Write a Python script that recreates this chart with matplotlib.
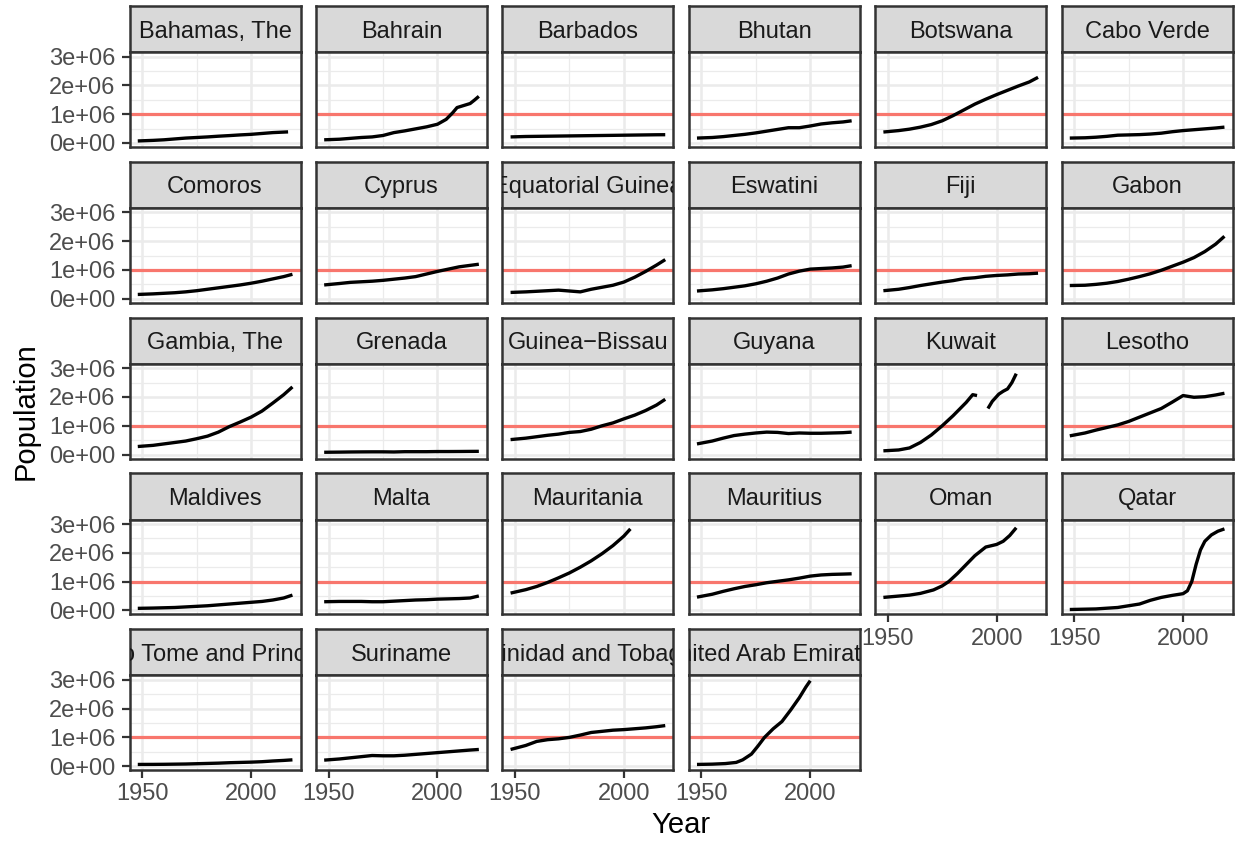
import numpy as np
import matplotlib
matplotlib.use("Agg")
import matplotlib.pyplot as plt

plt.rcParams['font.family'] = ['Liberation Sans', 'DejaVu Sans']

# common year grid, populations in millions
years = [1948, 1955, 1960, 1965, 1970, 1975, 1980, 1985, 1990, 1995, 2000, 2005, 2010, 2015, 2019]

barbados = [0.21, 0.225, 0.23, 0.235, 0.24, 0.245, 0.25, 0.255, 0.26, 0.265, 0.27, 0.275, 0.28, 0.285, 0.287]
bhutan = [0.17, 0.19, 0.22, 0.26, 0.30, 0.35, 0.41, 0.47, 0.53, 0.53, 0.59, 0.66, 0.70, 0.73, 0.77]
botswana = [0.38, 0.43, 0.48, 0.55, 0.64, 0.77, 0.95, 1.15, 1.35, 1.52, 1.68, 1.83, 1.98, 2.12, 2.28]
cabo_verde = [0.17, 0.18, 0.20, 0.23, 0.27, 0.28, 0.29, 0.31, 0.34, 0.39, 0.43, 0.46, 0.49, 0.52, 0.55]
comoros = [0.15, 0.17, 0.19, 0.21, 0.24, 0.28, 0.33, 0.38, 0.43, 0.48, 0.54, 0.61, 0.69, 0.77, 0.85]
cyprus = [0.48, 0.53, 0.57, 0.59, 0.61, 0.64, 0.68, 0.72, 0.77, 0.86, 0.95, 1.03, 1.11, 1.16, 1.20]
eq_guinea = [0.22, 0.24, 0.26, 0.28, 0.30, 0.27, 0.24, 0.33, 0.40, 0.47, 0.58, 0.75, 0.95, 1.17, 1.36]
eswatini = [0.27, 0.31, 0.35, 0.40, 0.45, 0.52, 0.61, 0.72, 0.86, 0.96, 1.03, 1.05, 1.07, 1.10, 1.15]
fiji = [0.28, 0.33, 0.39, 0.46, 0.52, 0.58, 0.63, 0.70, 0.73, 0.78, 0.81, 0.83, 0.86, 0.87, 0.89]
gabon = [0.46, 0.47, 0.50, 0.54, 0.60, 0.68, 0.77, 0.87, 0.99, 1.13, 1.27, 1.43, 1.64, 1.90, 2.17]
gambia = [0.28, 0.32, 0.37, 0.42, 0.47, 0.55, 0.64, 0.78, 0.97, 1.13, 1.30, 1.51, 1.79, 2.08, 2.35]
grenada = [0.08, 0.085, 0.09, 0.093, 0.095, 0.095, 0.09, 0.10, 0.10, 0.10, 0.105, 0.105, 0.107, 0.11, 0.112]
guinea_bissau = [0.52, 0.57, 0.62, 0.67, 0.71, 0.77, 0.80, 0.88, 1.00, 1.10, 1.24, 1.37, 1.53, 1.72, 1.92]
guyana = [0.37, 0.47, 0.57, 0.66, 0.71, 0.75, 0.78, 0.77, 0.73, 0.75, 0.74, 0.74, 0.75, 0.76, 0.78]
lesotho = [0.65, 0.75, 0.85, 0.94, 1.03, 1.15, 1.30, 1.45, 1.60, 1.82, 2.05, 1.99, 2.01, 2.07, 2.13]
maldives = [0.07, 0.08, 0.09, 0.10, 0.12, 0.14, 0.16, 0.19, 0.22, 0.25, 0.28, 0.31, 0.36, 0.43, 0.53]
malta = [0.30, 0.31, 0.31, 0.31, 0.30, 0.30, 0.32, 0.34, 0.36, 0.37, 0.39, 0.40, 0.41, 0.43, 0.50]
mauritius = [0.46, 0.56, 0.66, 0.75, 0.83, 0.89, 0.96, 1.01, 1.06, 1.12, 1.19, 1.23, 1.25, 1.26, 1.27]
sao_tome = [0.06, 0.062, 0.065, 0.07, 0.075, 0.085, 0.095, 0.105, 0.12, 0.13, 0.14, 0.155, 0.18, 0.20, 0.22]
suriname = [0.21, 0.25, 0.29, 0.33, 0.37, 0.36, 0.36, 0.38, 0.41, 0.44, 0.47, 0.50, 0.53, 0.56, 0.58]
trinidad = [0.58, 0.72, 0.86, 0.92, 0.95, 1.00, 1.08, 1.17, 1.21, 1.25, 1.27, 1.30, 1.33, 1.37, 1.41]

# series with their own years
bahamas_years = [1948, 1955, 1960, 1965, 1970, 1975, 1980, 1985, 1990, 1995, 2000, 2005, 2010, 2017]
bahamas = [0.07, 0.09, 0.11, 0.14, 0.17, 0.19, 0.21, 0.235, 0.256, 0.28, 0.30, 0.33, 0.36, 0.385]
bahrain_years = [1948, 1955, 1960, 1965, 1970, 1975, 1980, 1985, 1990, 1995, 2000, 2004, 2007, 2009, 2012, 2015, 2017, 2019]
bahrain = [0.11, 0.13, 0.16, 0.19, 0.21, 0.26, 0.36, 0.42, 0.49, 0.56, 0.65, 0.82, 1.05, 1.23, 1.30, 1.37, 1.49, 1.62]
kuwait_years = [1948, 1955, 1960, 1965, 1970, 1975, 1980, 1986, 1989, 1991, 1993, 1996, 1998, 2001, 2003, 2005, 2007, 2009]
kuwait = [0.13, 0.16, 0.23, 0.42, 0.68, 1.00, 1.35, 1.81, 2.08, 2.05, np.nan, 1.60, 1.85, 2.10, 2.20, 2.28, 2.50, 2.81]
mauritania_years = [1948, 1955, 1960, 1965, 1970, 1975, 1980, 1985, 1990, 1995, 2000, 2003]
mauritania = [0.60, 0.72, 0.83, 0.97, 1.13, 1.30, 1.50, 1.72, 1.97, 2.25, 2.58, 2.83]
oman_years = [1948, 1960, 1965, 1971, 1975, 1978, 1982, 1986, 1990, 1995, 2000, 2003, 2006, 2009]
oman = [0.45, 0.53, 0.59, 0.71, 0.85, 1.00, 1.28, 1.59, 1.90, 2.20, 2.29, 2.40, 2.60, 2.87]
qatar_years = [1948, 1960, 1970, 1980, 1985, 1990, 1995, 2000, 2002, 2004, 2006, 2008, 2010, 2013, 2016, 2019]
qatar = [0.03, 0.05, 0.10, 0.22, 0.35, 0.45, 0.52, 0.58, 0.68, 1.00, 1.60, 2.10, 2.40, 2.62, 2.75, 2.83]
uae_years = [1948, 1955, 1961, 1966, 1969, 1973, 1976, 1979, 1983, 1987, 1991, 1995, 1998, 2000]
uae = [0.06, 0.07, 0.09, 0.13, 0.22, 0.42, 0.70, 1.00, 1.30, 1.55, 1.95, 2.38, 2.75, 2.97]

countries = ["Bahamas, The", "Bahrain", "Barbados", "Bhutan", "Botswana", "Cabo Verde",
             "Comoros", "Cyprus", "Equatorial Guinea", "Eswatini", "Fiji", "Gabon",
             "Gambia, The", "Grenada", "Guinea\u2212Bissau", "Guyana", "Kuwait", "Lesotho",
             "Maldives", "Malta", "Mauritania", "Mauritius", "Oman", "Qatar",
             "Sao Tome and Principe", "Suriname", "Trinidad and Tobago", "United Arab Emirates"]
series = [(bahamas_years, bahamas), (bahrain_years, bahrain), (years, barbados), (years, bhutan),
          (years, botswana), (years, cabo_verde), (years, comoros), (years, cyprus),
          (years, eq_guinea), (years, eswatini), (years, fiji), (years, gabon),
          (years, gambia), (years, grenada), (years, guinea_bissau), (years, guyana),
          (kuwait_years, kuwait), (years, lesotho), (years, maldives), (years, malta),
          (mauritania_years, mauritania), (years, mauritius), (oman_years, oman),
          (qatar_years, qatar), (years, sao_tome), (years, suriname), (years, trinidad),
          (uae_years, uae)]

threshold = 1e6
x_breaks = [1950, 2000]
x_minor = [1975]
y_breaks = [0, 1e6, 2e6, 3e6]
y_minor = [0.5e6, 1.5e6, 2.5e6]
y_labels = ["0e+00", "1e+06", "2e+06", "3e+06"]

W, H = 1236, 842
fig = plt.figure(figsize=(W / 100, H / 100), dpi=100)
fig.patch.set_facecolor("white")

ncol = 6
col_left0, col_w, col_step = 129.5, 171.0, 186.4
row_top0, strip_h, panel_h, row_step = 6.0, 46.2, 94.8, 155.8


def fig_box(x, y, w, h):
    return [x / W, 1 - (y + h) / H, w / W, h / H]


border = "#333333"
n = len(countries)
for i, (name, (xs, ys)) in enumerate(zip(countries, series)):
    r, c = divmod(i, ncol)
    left = col_left0 + c * col_step
    top = row_top0 + r * row_step

    # strip
    sax = fig.add_axes(fig_box(left, top, col_w, strip_h))
    sax.set_facecolor("#D9D9D9")
    sax.set_xticks([])
    sax.set_yticks([])
    for sp in sax.spines.values():
        sp.set_color(border)
        sp.set_linewidth(1.8)
    sax.text(0.5, 0.317, name, transform=sax.transAxes, ha="center", va="baseline",
             fontsize=17, color="#1A1A1A", clip_on=True)

    # panel
    ax = fig.add_axes(fig_box(left, top + strip_h, col_w, panel_h))
    ax.set_facecolor("white")
    ax.set_xlim(1944.2, 2022.7)
    ax.set_ylim(-0.14e6, 3.153e6)
    ax.set_xticks(x_breaks)
    ax.set_xticks(x_minor, minor=True)
    ax.set_yticks(y_breaks)
    ax.set_yticks(y_minor, minor=True)
    ax.grid(which="major", color="#EBEBEB", lw=1.8)
    ax.grid(which="minor", color="#EBEBEB", lw=0.9)
    ax.set_axisbelow(True)
    for sp in ax.spines.values():
        sp.set_color(border)
        sp.set_linewidth(1.8)
        sp.set_zorder(5)

    ax.axhline(threshold, color="#F8766D", lw=2.3, zorder=2)
    ax.plot(xs, np.array(ys) * 1e6, color="black", lw=2.4, solid_capstyle="butt", zorder=3)

    ax.tick_params(which="minor", length=0)
    ax.tick_params(which="major", color=border, width=1.6, length=5.5,
                   labelsize=17, labelcolor="#4D4D4D")
    ax.tick_params(axis="x", pad=4)
    ax.tick_params(axis="y", pad=4.5)

    if c == 0:
        ax.set_yticklabels(y_labels)
    else:
        ax.tick_params(axis="y", length=0, labelleft=False)
    if i + ncol >= n:
        ax.set_xticklabels([str(b) for b in x_breaks])
    else:
        ax.tick_params(axis="x", length=0, labelbottom=False)

fig.text(26 / W, 1 - 411 / H, "Population", rotation=90, fontsize=21,
         ha="center", va="center", color="black")
fig.text(681 / W, 1 - 825 / H, "Year", fontsize=21, ha="center", va="center", color="black")

fig.savefig("out.png", dpi=100, facecolor="white")
